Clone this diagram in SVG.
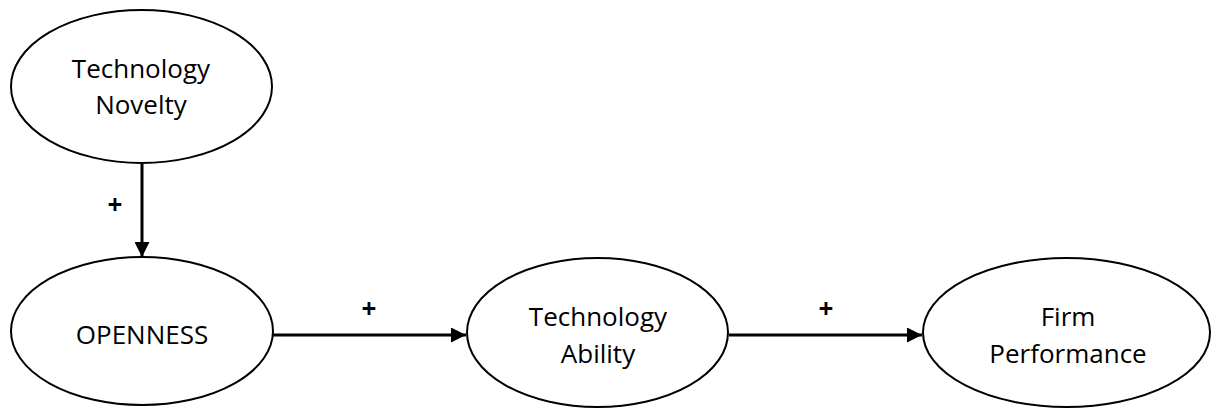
<svg xmlns="http://www.w3.org/2000/svg" width="1212" height="409" viewBox="0 0 1212 409">
<style>
.node ellipse{fill:#fff;stroke:#000;stroke-width:2}
.lbl{font-family:"Open Sans","Liberation Sans",sans-serif;font-size:26px;fill:#000;text-anchor:middle}
.plus{font-family:"Open Sans","Liberation Sans",sans-serif;font-size:26px;font-weight:bold;fill:#000;text-anchor:middle}
.conn{stroke:#000;stroke-width:3;fill:none;marker-end:url(#ah)}
</style>
<defs>
<marker id="ah" viewBox="0 0 10 10" refX="10" refY="5" markerUnits="userSpaceOnUse" markerWidth="15" markerHeight="15" orient="auto">
<path d="M0,0 L10,5 L0,10 Z" fill="#000"/>
</marker>
</defs>
<rect width="1212" height="409" fill="#fff"/>
<g id="connectors">
<line class="conn" x1="142" y1="164" x2="142" y2="257"/>
<line class="conn" x1="273" y1="335" x2="466" y2="335"/>
<line class="conn" x1="729" y1="335" x2="922" y2="335"/>
<text class="plus" x="115" y="214">+</text>
<text class="plus" x="369" y="318">+</text>
<text class="plus" x="826" y="318">+</text>
</g>
<g id="novelty" class="node">
<ellipse cx="141.5" cy="86.5" rx="130.5" ry="76.5"/>
<text class="lbl" x="141" y="78">Technology</text>
<text class="lbl" x="141" y="114">Novelty</text>
</g>
<g id="openness" class="node">
<ellipse cx="142" cy="331" rx="131" ry="74"/>
<text class="lbl" x="142" y="344">OPENNESS</text>
</g>
<g id="ability" class="node">
<ellipse cx="597.5" cy="332.5" rx="130.5" ry="74.5"/>
<text class="lbl" x="598" y="326">Technology</text>
<text class="lbl" x="598" y="363">Ability</text>
</g>
<g id="performance" class="node">
<ellipse cx="1066.5" cy="332.5" rx="143.5" ry="74.5"/>
<text class="lbl" x="1068" y="326">Firm</text>
<text class="lbl" x="1068" y="363">Performance</text>
</g>
</svg>
